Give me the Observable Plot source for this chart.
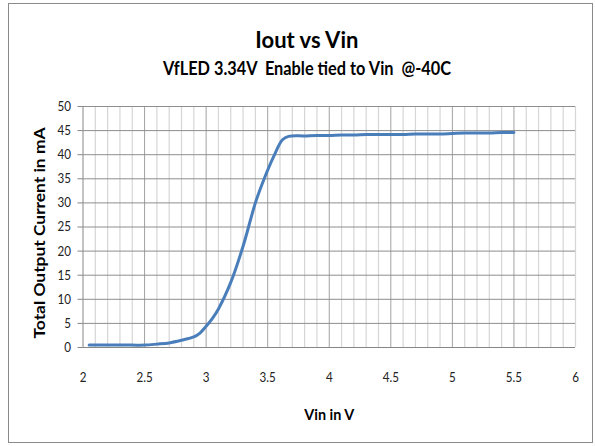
<!DOCTYPE html>
<html><head><meta charset="utf-8">
<script src="https://cdn.jsdelivr.net/npm/d3@7"></script>
<script src="https://cdn.jsdelivr.net/npm/@observablehq/plot@0.6"></script>
<style>
body{margin:0;background:#fff;}
#wrap{position:relative;width:595px;height:446px;overflow:hidden;font-family:Lato,"Open Sans",sans-serif;color:#000;}
#frame{position:absolute;left:8px;top:3px;width:585px;height:440px;border:1px solid #8a8a8a;box-sizing:border-box;}
.ttl{position:absolute;left:0;width:614px;text-align:center;font-weight:bold;white-space:pre;}
.ttl span{display:inline-block;transform-origin:50% 50%;}
#title{top:26px;font-size:23px;line-height:26px;}
#subtitle{top:57.5px;font-size:19.5px;line-height:20px;}
#chart{position:absolute;left:0;top:90px;}
#chart svg{overflow:visible;}
</style></head>
<body>
<div id="wrap">
<div id="frame"></div>
<div id="title" class="ttl"><span>Iout vs Vin</span></div>
<div id="subtitle" class="ttl"><span>VfLED 3.34V  Enable tied to Vin  @-40C</span></div>
<div id="chart"></div>
</div>
<script>
const vin  = [2.05, 2.1, 2.2, 2.3, 2.4, 2.5, 2.6, 2.7, 2.8, 2.9, 2.95, 3.0, 3.05, 3.1, 3.2, 3.3, 3.4, 3.47, 3.55, 3.62, 3.67, 3.8, 3.9, 4.0, 4.1, 4.2, 4.3, 4.4, 4.5, 4.6, 4.7, 4.8, 4.9, 5.0, 5.1, 5.2, 5.3, 5.4, 5.5];
const iout = [0.5, 0.5, 0.5, 0.5, 0.5, 0.5, 0.7, 0.95, 1.5, 2.2, 3.0, 4.4, 6.0, 8.0, 13.5, 21.0, 30.0, 34.9, 39.7, 43.1, 43.8, 43.9, 44.0, 44.0, 44.1, 44.1, 44.2, 44.2, 44.2, 44.2, 44.3, 44.3, 44.3, 44.4, 44.5, 44.5, 44.5, 44.6, 44.6];
const xTicks = [2, 2.5, 3, 3.5, 4, 4.5, 5, 5.5, 6];
const yTicks = [0, 5, 10, 15, 20, 25, 30, 35, 40, 45, 50];
const xMinor = [2.1,2.2,2.3,2.4,2.6,2.7,2.8,2.9,3.1,3.2,3.3,3.4,3.6,3.7,3.8,3.9,4.1,4.2,4.3,4.4,4.6,4.7,4.8,4.9,5.1,5.2,5.3,5.4,5.6,5.7,5.8,5.9,6];
const xMajor = [2.5, 3, 3.5, 4, 4.5, 5, 5.5];
const xTitle = "Vin in V";
const yTitle = "Total Output Current in mA";

const data = vin.map((v, i) => ({vin: v, iout: iout[i]}));
const font = "Lato, 'Open Sans', sans-serif";

const chart = Plot.plot({
  width: 595, height: 340,
  marginLeft: 82.5, marginRight: 20, marginTop: 16, marginBottom: 83,
  x: {domain: [2, 6]},
  y: {domain: [0, 50]},
  style: {fontFamily: font, fontSize: "14px", color: "#222", background: "transparent", overflow: "visible"},
  marks: [
    Plot.gridX(xMinor, {stroke: "#d6d6d6", strokeOpacity: 1, strokeWidth: 1.2}),
    Plot.gridX(xMajor, {stroke: "#a2a2a2", strokeOpacity: 1}),
    Plot.gridY(yTicks, {stroke: "#8e8e8e", strokeOpacity: 1}),
    Plot.ruleX([2], {stroke: "#868686"}),
    Plot.ruleY([0], {stroke: "#868686"}),
    Plot.axisY(yTicks, {tickSize: 5, tickPadding: 7, label: null, stroke: "#868686", fill: "#222", tickFormat: d => String(d)}),
    Plot.axisX(xTicks, {tickSize: 0, tickPadding: 25, label: null, fill: "#222", tickFormat: d => String(d)}),
    Plot.line(data, {x: "vin", y: "iout", stroke: "#4a7ebb", strokeWidth: 3, curve: "catmull-rom"}),
    Plot.text([yTitle], {frameAnchor: "left", textAnchor: "middle", rotate: -90, dx: -43, dy: 6, lineAnchor: "middle", fontWeight: "bold", fontSize: 16, fill: "#000"}),
    Plot.text([xTitle], {frameAnchor: "bottom", textAnchor: "middle", dx: 0, dy: 67, lineAnchor: "middle", fontWeight: "bold", fontSize: 16, fill: "#000"})
  ]
});
document.getElementById("chart").appendChild(chart);

// narrow the glyphs horizontally to mimic the reference's condensed face
for (const t of chart.querySelectorAll("text")) {
  const txt = t.textContent;
  const len = t.getComputedTextLength();
  let target = len * 0.83;
  if (txt === yTitle) target = 211;
  if (txt === xTitle) target = 50;
  t.setAttribute("textLength", target);
  t.setAttribute("lengthAdjust", "spacingAndGlyphs");
}
const fit = (id, w) => {
  const s = document.querySelector("#" + id + " span");
  const cw = s.getBoundingClientRect().width;
  s.style.transform = "scaleX(" + (w / cw) + ")";
};
fit("title", 103);
fit("subtitle", 288);
</script>
</body></html>
